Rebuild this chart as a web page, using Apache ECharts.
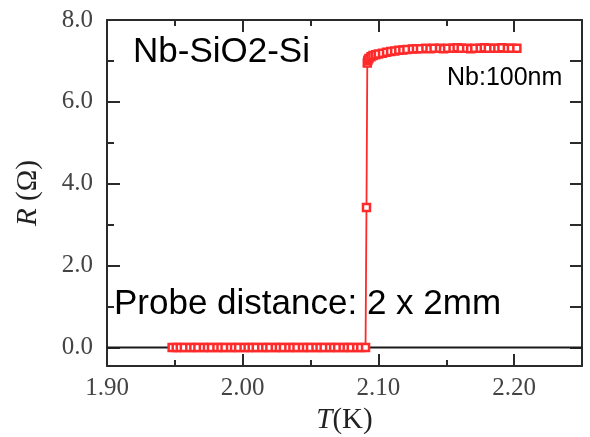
<!DOCTYPE html>
<html lang="en">
<head>
    <meta charset="UTF-8">
    <title>Nb-SiO2-Si R(T)</title>
    <style type="text/css">
        body {
            margin: 0;
            background: #fff;
        }

        #chart {
            width: 590px;
            height: 437px;
        }
    </style>
    <script type="text/javascript" src="https://cdn.jsdelivr.net/npm/echarts@6/dist/echarts.min.js"></script>
</head>
<body>
    <div id="chart"></div>
</body>
</html>
<script type="text/javascript">
    // temperature (K) and resistance (ohm)
    var tempK = [
        1.948, 1.951, 1.954, 1.957, 1.961, 1.964, 1.967, 1.971, 1.974, 1.977,
        1.981, 1.984, 1.987, 1.991, 1.994, 1.997, 2.001, 2.004, 2.007, 2.010,
        2.014, 2.017, 2.020, 2.024, 2.027, 2.030, 2.034, 2.037, 2.040, 2.044,
        2.047, 2.050, 2.054, 2.057, 2.060, 2.064, 2.067, 2.070, 2.074, 2.077,
        2.080, 2.084, 2.087, 2.0905,
        2.0912, 2.0918, 2.0922, 2.0930, 2.0945, 2.0960, 2.098, 2.100, 2.103, 2.106,
        2.109, 2.112, 2.115, 2.118, 2.121, 2.125, 2.128, 2.131, 2.135, 2.138,
        2.141, 2.145, 2.148, 2.151, 2.155, 2.158, 2.161, 2.165, 2.168, 2.171,
        2.175, 2.178, 2.181, 2.185, 2.188, 2.191, 2.195, 2.198, 2.202
    ];
    var resOhm = [
        0, 0, 0, 0, 0, 0, 0, 0, 0, 0,
        0, 0, 0, 0, 0, 0, 0, 0, 0, 0,
        0, 0, 0, 0, 0, 0, 0, 0, 0, 0,
        0, 0, 0, 0, 0, 0, 0, 0, 0, 0,
        0, 0, 0, 0,
        3.42, 6.95, 7.02, 7.06, 7.10, 7.13, 7.15, 7.17, 7.19, 7.21,
        7.23, 7.24, 7.26, 7.27, 7.28, 7.29, 7.30, 7.30, 7.31, 7.30,
        7.31, 7.31, 7.30, 7.31, 7.31, 7.32, 7.31, 7.31, 7.30, 7.31,
        7.31, 7.32, 7.31, 7.31, 7.31, 7.32, 7.31, 7.31, 7.31
    ];
    var baseT = [1.90, 2.25];
    var baseR = [0, 0];

    var xMin = 1.90, xMax = 2.25;
    var yMin = -0.45, yMax = 8.0;

    var red = '#ff2a2a';
    var axisColor = '#2a2a2a';
    var labelColor = '#444';

    var pts = [];
    for (var i = 0; i < tempK.length; i++) {
        pts.push([tempK[i], resOhm[i]]);
    }
    var basePts = [];
    for (var j = 0; j < baseT.length; j++) {
        basePts.push([baseT[j], baseR[j]]);
    }

    function isStep(v, step) {
        var q = v / step;
        return Math.abs(q - Math.round(q)) < 1e-6;
    }

    var chart = echarts.init(document.getElementById('chart'));
    var option = {
        animation: false,
        grid: {
            left: 107,
            right: 8,
            top: 20,
            bottom: 71,
            containLabel: false,
            outerBoundsMode: 'none'
        },
        xAxis: [{
            type: 'value',
            min: xMin,
            max: xMax,
            interval: 0.1,
            name: '{i|T}(K)',
            nameLocation: 'middle',
            nameGap: 36,
            nameTextStyle: {
                fontFamily: 'Liberation Serif',
                fontSize: 29,
                color: '#222',
                rich: {
                    i: {fontFamily: 'Liberation Serif', fontSize: 29, fontStyle: 'italic', color: '#222'}
                }
            },
            axisLine: {show: true, onZero: false, lineStyle: {color: axisColor, width: 2}},
            axisTick: {show: true, inside: true, length: 12, lineStyle: {color: axisColor, width: 2}},
            minorTick: {show: true, splitNumber: 2, length: 6, lineStyle: {color: axisColor, width: 2}},
            splitLine: {show: false},
            axisLabel: {
                margin: 10,
                fontFamily: 'Liberation Serif',
                fontSize: 25,
                color: labelColor,
                formatter: function (v) {
                    return isStep(v, 0.1) ? v.toFixed(2) : '';
                }
            }
        }, {
            type: 'value',
            position: 'top',
            min: xMin,
            max: xMax,
            interval: 0.1,
            axisLine: {show: true, onZero: false, lineStyle: {color: axisColor, width: 2}},
            axisTick: {show: true, inside: true, length: 12, lineStyle: {color: axisColor, width: 2}},
            minorTick: {show: true, splitNumber: 2, length: 6, lineStyle: {color: axisColor, width: 2}},
            splitLine: {show: false},
            axisLabel: {show: false}
        }],
        yAxis: [{
            type: 'value',
            min: yMin,
            max: yMax,
            splitNumber: 4,
            name: '{i|R} (Ω)',
            nameLocation: 'middle',
            nameGap: 64,
            nameTextStyle: {
                fontFamily: 'Liberation Serif',
                fontSize: 29,
                color: '#222',
                rich: {
                    i: {fontFamily: 'Liberation Serif', fontSize: 29, fontStyle: 'italic', color: '#222'}
                }
            },
            axisLine: {show: true, onZero: false, lineStyle: {color: axisColor, width: 2}},
            axisTick: {show: true, inside: true, length: 13, lineStyle: {color: axisColor, width: 2}},
            minorTick: {show: true, splitNumber: 2, length: 7, lineStyle: {color: axisColor, width: 2}},
            splitLine: {show: false},
            axisLabel: {
                margin: 14,
                fontFamily: 'Liberation Serif',
                fontSize: 25,
                color: labelColor,
                formatter: function (v) {
                    return isStep(v, 2) ? v.toFixed(1) : '';
                }
            }
        }, {
            type: 'value',
            position: 'right',
            min: yMin,
            max: yMax,
            splitNumber: 4,
            axisLine: {show: true, onZero: false, lineStyle: {color: axisColor, width: 2}},
            axisTick: {show: true, inside: true, length: 12, lineStyle: {color: axisColor, width: 2}},
            minorTick: {show: true, splitNumber: 2, length: 12, lineStyle: {color: axisColor, width: 2}},
            splitLine: {show: false},
            axisLabel: {show: false}
        }],
        graphic: [{
            type: 'text',
            left: 133,
            top: 35,
            style: {
                text: 'Nb-SiO2-Si',
                font: '35px "Liberation Sans"',
                fill: '#000'
            }
        }, {
            type: 'text',
            left: 447,
            top: 66,
            style: {
                text: 'Nb:100nm',
                font: '25px "Liberation Sans"',
                fill: '#000'
            }
        }, {
            type: 'text',
            left: 114,
            top: 287,
            style: {
                text: 'Probe distance: 2 x 2mm',
                font: '35px "Liberation Sans"',
                fill: '#000'
            }
        }],
        series: [{
            name: 'zero',
            type: 'line',
            data: basePts,
            symbol: 'none',
            z: 1,
            lineStyle: {color: '#1a1a1a', width: 2}
        }, {
            name: 'R',
            type: 'line',
            data: pts,
            z: 3,
            symbol: 'rect',
            symbolSize: 7,
            showAllSymbol: true,
            itemStyle: {color: '#fff', borderColor: red, borderWidth: 2.5},
            lineStyle: {color: red, width: 1.8}
        }]
    };
    chart.setOption(option);
</script>
